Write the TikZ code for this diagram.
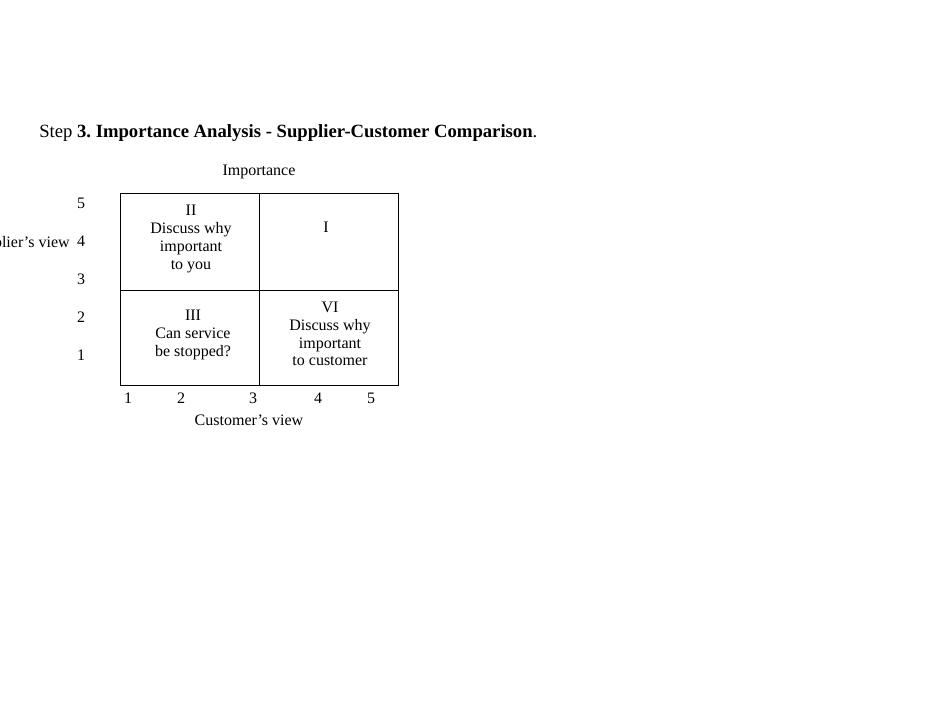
\documentclass[tikz,border=0pt]{standalone}
\usepackage{fontspec}
\setmainfont{Liberation Serif}
\usepackage{tikz}
\frenchspacing
\tikzset{
  cell/.style={align=center,inner sep=0pt},
  tick/.style={inner sep=0pt},
}
\begin{document}
\begin{tikzpicture}[font=\fontsize{12pt}{13.3pt}\selectfont,x=0.75pt,y=-0.75pt]
\useasboundingbox (0,0) rectangle (950,713);
\node[anchor=base west,inner sep=0pt,font=\fontsize{14pt}{16pt}\selectfont] (title) at (39,138) {Step \textbf{3. Importance Analysis - Supplier-Customer Comparison}.};
\node[anchor=base,inner sep=0pt] (imp) at (259,176) {Importance};
% the grid
\draw[semithick] (120,193) rectangle (398,385);
\draw[semithick] (259,193) -- (259,385);
\draw[semithick] (120,290) -- (398,290);
% quadrants
\node[cell] (q2) at (191,239) {II\\Discuss why\\important\\to you};
\node[cell] (q1) at (326,227) {I};
\node[cell] (q3) at (193,335) {III\\Can service\\be stopped?};
\node[cell] (q4) at (330,334) {VI\\Discuss why\\important\\to customer};
% scales
\node[tick] (y5) at (81,203) {5};
\node[tick] (y4) at (81,241) {4};
\node[tick] (y3) at (81,279) {3};
\node[tick] (y2) at (81,317) {2};
\node[tick] (y1) at (81,355) {1};
\node[anchor=east,inner sep=0pt] (sview) at (70,244) {Supplier’s view};
\node[tick] (x1) at (128,398) {1};
\node[tick] (x2) at (181,398) {2};
\node[tick] (x3) at (253,398) {3};
\node[tick] (x4) at (318,398) {4};
\node[tick] (x5) at (371,398) {5};
\node[tick] (cview) at (249,420) {Customer’s view};
\end{tikzpicture}
\end{document}
